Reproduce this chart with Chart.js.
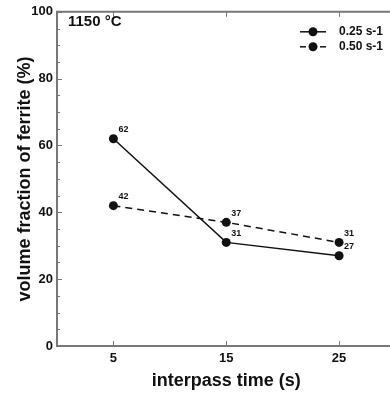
<!DOCTYPE html>
<html>
<head>
<meta charset="utf-8">
<script src="https://cdn.jsdelivr.net/npm/chart.js@4/dist/chart.umd.min.js"></script>
<style>
  html, body { margin:0; padding:0; background:#fff; overflow:hidden; width:390px; height:397px; }
  #wrap { position:absolute; left:0; top:0; width:400px; height:397px; }
</style>
</head>
<body>
<div id="wrap"><canvas id="c" width="400" height="397"></canvas></div>
<script>
const interpassTimes = [5, 15, 25];
const ferrite025 = [62, 31, 27];
const ferrite050 = [42, 37, 31];
const seriesLabels = ['0.25 s-1', '0.50 s-1'];
const xTickValues = [5, 15, 25];
const yTickValues = [0, 20, 40, 60, 80, 100];
const yMinorStep = 5;
const panelLabel = '1150 °C';
const xTitle = 'interpass time (s)';
const yTitle = 'volume fraction of ferrite (%)';

const FONT = "'Liberation Sans', Arial, sans-serif";
const AXIS = '#777';
const INK = '#111';

const decor = {
  id: 'decor',
  afterDraw(chart) {
    const {ctx, chartArea: a, scales: {x, y}} = chart;
    ctx.save();
    // top border
    ctx.strokeStyle = AXIS; ctx.lineWidth = 2;
    ctx.beginPath(); ctx.moveTo(a.left - 1, a.top); ctx.lineTo(a.right, a.top); ctx.stroke();
    // y ticks (inside)
    ctx.lineWidth = 1;
    for (let v = y.min; v <= y.max; v += yMinorStep) {
      const py = Math.round(y.getPixelForValue(v)) + 0.5;
      const len = yTickValues.includes(v) ? 5 : 3;
      ctx.beginPath(); ctx.moveTo(a.left, py); ctx.lineTo(a.left + len, py); ctx.stroke();
    }
    // x ticks inside bottom & top
    xTickValues.forEach(v => {
      const px = Math.round(x.getPixelForValue(v)) + 0.5;
      ctx.beginPath(); ctx.moveTo(px, a.bottom); ctx.lineTo(px, a.bottom - 5); ctx.stroke();
      ctx.beginPath(); ctx.moveTo(px, a.top); ctx.lineTo(px, a.top + 5); ctx.stroke();
    });
    // data labels
    ctx.fillStyle = INK;
    ctx.font = "bold 9px " + FONT;
    ctx.textAlign = 'left'; ctx.textBaseline = 'middle';
    chart.data.datasets.forEach((ds, i) => {
      chart.getDatasetMeta(i).data.forEach((el, j) => {
        ctx.fillText(String(ds.data[j].y), el.x + 5, el.y - 9);
      });
    });
    // panel label
    ctx.font = "bold 15px " + FONT;
    ctx.fillText(panelLabel, a.left + 11, a.top + 10);
    // legend
    const lx = a.left + 243, ly = a.top + 20;
    chart.data.datasets.forEach((ds, i) => {
      const yy = ly + i * 15;
      ctx.strokeStyle = INK; ctx.lineWidth = 1.5;
      if (ds.borderDash) {
        ctx.beginPath(); ctx.moveTo(lx, yy); ctx.lineTo(lx + 6, yy); ctx.stroke();
        ctx.beginPath(); ctx.moveTo(lx + 20, yy); ctx.lineTo(lx + 26, yy); ctx.stroke();
      } else {
        ctx.beginPath(); ctx.moveTo(lx, yy); ctx.lineTo(lx + 26, yy); ctx.stroke();
      }
      ctx.fillStyle = INK;
      ctx.beginPath(); ctx.arc(lx + 13, yy, 4.5, 0, Math.PI * 2); ctx.fill();
      ctx.font = "bold 12px " + FONT;
      ctx.fillText(ds.label, lx + 39, yy);
    });
    ctx.restore();
  }
};

new Chart(document.getElementById('c'), {
  type: 'line',
  data: {
    datasets: [
      { label: seriesLabels[0], data: interpassTimes.map((t, i) => ({x: t, y: ferrite025[i]})),
        borderColor: INK, backgroundColor: INK, borderWidth: 1.5, pointRadius: 4.5, pointBackgroundColor: INK, pointBorderWidth: 0, tension: 0 },
      { label: seriesLabels[1], data: interpassTimes.map((t, i) => ({x: t, y: ferrite050[i]})),
        borderColor: INK, backgroundColor: INK, borderWidth: 1.5, borderDash: [7, 5], pointRadius: 4.5, pointBackgroundColor: INK, pointBorderWidth: 0, tension: 0 }
    ]
  },
  options: {
    responsive: false,
    animation: false,
    layout: { padding: { top: 5, right: 1, left: 0, bottom: 0 } },
    plugins: { legend: { display: false }, tooltip: { enabled: false } },
    scales: {
      x: {
        type: 'linear', min: 0, max: 30,
        afterBuildTicks: s => { s.ticks = xTickValues.map(v => ({value: v})); },
        afterFit: s => { s.height = 51; },
        grid: { display: true, drawOnChartArea: false, drawTicks: false },
        border: { color: AXIS, width: 2 },
        ticks: { color: INK, font: { family: FONT, size: 13, weight: 'bold' }, padding: 5, maxRotation: 0 },
        title: { display: true, text: xTitle, color: INK, font: { family: FONT, size: 18, weight: 'bold' }, padding: { top: 0, bottom: 5 } }
      },
      y: {
        min: 0, max: 100,
        afterBuildTicks: s => { s.ticks = yTickValues.map(v => ({value: v})); },
        afterFit: s => { s.width = 57; },
        grid: { display: true, drawOnChartArea: false, drawTicks: false },
        border: { color: AXIS, width: 2 },
        ticks: { color: INK, font: { family: FONT, size: 13, weight: 'bold' }, padding: 4 },
        title: { display: true, text: yTitle, color: INK, font: { family: FONT, size: 18, weight: 'bold' }, padding: { top: 14, bottom: 0 } }
      }
    }
  },
  plugins: [decor]
});
</script>
</body>
</html>
